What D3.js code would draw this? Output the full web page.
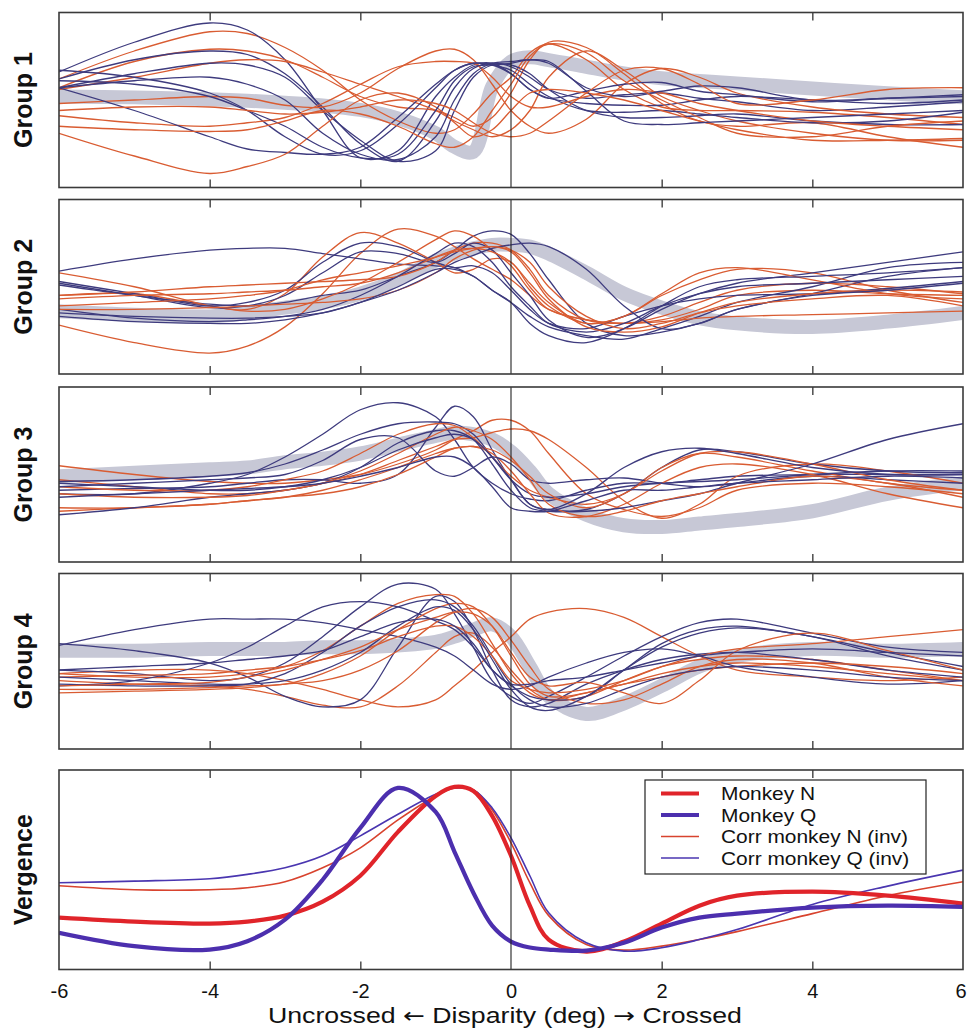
<!DOCTYPE html>
<html><head><meta charset="utf-8">
<script src="https://cdn.jsdelivr.net/npm/d3@7"></script>
<style>body{margin:0;background:#fff}</style>
</head><body>
<svg id="c" width="967" height="1030"></svg>
<script>
// Disparity sample grid (deg)
const X = [-6,-5,-4,-3.5,-3,-2.5,-2,-1.5,-1,-0.75,-0.5,-0.25,0,0.25,0.5,1,1.5,2,2.5,3,4,5,6];
const xTicks = [-6,-4,-2,0,2,4,6];
const xTickLabels = ["-6","-4","-2","0","2","4","6"];
const innerTicks = [-4,-2,2,4];
const panelLabels = ["Group 1","Group 2","Group 3","Group 4","Vergence"];
const legendLabels = ["Monkey N","Monkey Q","Corr monkey N (inv)","Corr monkey Q (inv)"];
const xTitleParts = ["Uncrossed ", "\u2190", " Disparity (deg) ", "\u2192", " Crossed"];

// Group 1 (normalised response, 0-100)
const g1Mean = [52,51.5,50.4,49.6,48.4,46.9,44.3,39.5,31,23.3,20.4,57.6,71.9,74.4,72.8,69,65.2,62.4,60.8,59.5,56.6,53.8,51.5];
const g1Q = [
 [66,83,94,90,73,44,17,21,52,63,70,71,65,56,51,48,47,47,50,52,50,48,50],
 [62,73,78,76,65,46,25,15,38,57,68,71,69,63,56,51,53,54,51,49,44,46,49],
 [57,65,71,70,63,44,27,15,21,44,63,70,70,65,56,44,40,40,41,42,38,36,36],
 [67,63,54,44,29,19,21,36,57,67,71,70,67,59,52,44,43,44,42,40,37,38,43],
 [57,44,29,22,20,19,23,40,59,67,71,70,65,56,51,55,59,60,55,53,49,51,53],
 [61,59,52,44,35,23,17,19,44,61,69,70,71,73,71,57,52,55,58,57,50,51,52],
 [57,61,63,59,50,31,19,16,29,50,65,71,72,73,72,55,38,36,37,38,40,42,44]
];
const g1N = [
 [62,78,89,88,80,67,50,38,31,33,42,54,63,77,82,73,56,46,44,44,43,40,36],
 [57,72,79,78,73,63,52,46,44,40,35,40,54,73,83,80,65,48,38,35,37,29,23],
 [56,63,71,73,72,66,59,52,44,38,33,29,33,44,63,78,67,52,44,38,31,27,27],
 [48,50,52,51,47,46,54,68,78,79,73,59,44,35,31,39,59,68,63,54,46,42,40],
 [41,37,35,37,40,48,59,69,72,72,71,63,52,46,46,52,56,54,48,44,38,35,33],
 [31,18,8,12,19,35,50,54,46,37,29,33,44,54,56,54,50,44,38,33,27,27,28],
 [35,33,32,33,38,44,42,35,25,23,29,44,59,75,82,77,61,50,40,31,29,35,38],
 [44,46,46,44,42,43,46,50,48,44,37,31,29,31,38,54,67,68,59,48,50,56,57]
];
// Group 2
const g2Mean = [36,34,33,35,38,41,46,54,65,69,72,74,74,73,69,58,46,38,32,29,27,30,35];
const g2Q = [
 [59,66,71,72,72,69,66,63,62,61,56,48,41,33,27,22,20,26,33,41,50,61,64],
 [51,45,40,39,41,45,48,56,64,71,79,82,80,69,54,29,22,24,29,37,46,56,61],
 [53,46,39,41,48,64,75,73,64,61,62,58,48,37,29,26,33,39,43,45,46,49,53],
 [52,45,38,39,45,58,70,69,64,69,75,71,58,45,31,21,26,37,46,52,58,64,70],
 [37,32,30,31,33,37,45,56,69,75,73,64,50,39,29,24,29,39,46,50,52,54,56],
 [35,33,32,32,33,35,41,48,58,64,68,72,74,75,73,60,39,26,29,37,45,48,52],
 [33,30,29,29,31,35,41,50,60,60,56,48,41,29,22,18,26,39,50,54,56,58,61]
];
const g2N = [
 [28,18,12,16,27,46,69,83,79,73,66,60,54,45,37,31,29,31,37,45,48,46,45],
 [45,46,39,37,46,67,81,75,64,58,60,66,64,50,39,29,33,45,54,60,58,48,41],
 [58,50,39,36,37,43,52,64,77,82,79,71,62,48,37,31,29,33,41,48,52,50,46],
 [45,47,50,51,52,53,54,56,64,71,75,75,71,60,45,31,29,30,32,33,34,35,36],
 [43,45,46,47,48,50,52,58,67,71,72,70,64,52,41,29,33,46,58,61,54,46,43],
 [37,37,38,39,40,41,43,48,58,66,71,73,70,58,43,27,24,27,35,41,46,48,47],
 [39,41,43,45,48,54,58,62,67,70,72,73,71,64,50,33,26,29,35,39,43,45,39]
];
// Group 3
const g3Mean = [49,51,53,54,57,59,62,67,72,74,73,70,63,52,39,27,21,20,22,24,29,39,45];
const g3Q = [
 [39,39,45,50,60,73,87,91,83,70,54,45,39,36,35,41,45,45,47,49,50,50,50],
 [41,42,43,45,47,47,45,50,77,89,83,64,47,33,30,30,39,54,64,63,56,52,51],
 [46,47,49,51,56,64,73,79,80,79,73,60,47,39,37,39,43,45,46,47,50,52,52],
 [43,45,47,48,50,58,70,71,52,49,54,60,56,47,45,47,48,45,43,45,49,47,45],
 [27,31,37,39,41,45,54,68,75,75,70,56,41,31,29,29,31,35,39,45,56,70,79],
 [45,43,41,41,43,47,54,64,71,73,70,60,47,33,30,39,54,63,65,62,54,50,50],
 [37,39,41,42,43,45,49,54,60,60,54,43,31,29,29,35,41,41,43,45,47,49,48]
];
const g3N = [
 [55,50,46,45,45,47,50,56,64,70,75,81,81,75,62,39,30,26,31,41,45,43,39],
 [47,43,39,39,41,45,50,58,66,70,71,74,76,75,70,54,35,25,33,49,56,52,45],
 [43,41,41,43,47,52,62,73,79,78,71,60,49,41,37,33,39,54,62,60,52,45,41],
 [31,31,33,35,37,41,47,54,62,65,66,62,52,39,28,26,33,45,54,56,50,39,31],
 [29,31,33,35,37,39,43,50,60,65,66,64,58,49,39,31,39,52,62,63,56,47,41],
 [39,37,37,38,41,45,52,62,73,77,75,70,60,47,33,26,29,35,39,43,49,45,37]
];
// Group 4
const g4Mean = [56,56,57,57,57,58,58,59,61,64,68,71,64,47,30,20,26,36,47,53,57,56,57];
const g4Q = [
 [45,43,39,41,49,64,81,94,91,77,58,39,30,26,30,41,53,64,72,74,66,58,55],
 [60,56,49,41,30,24,28,58,87,84,68,45,28,24,26,37,45,51,54,55,51,45,41],
 [36,39,49,58,70,81,84,81,73,68,58,45,36,30,28,30,45,60,68,70,64,55,47],
 [59,68,74,74,74,72,68,64,58,53,45,37,34,36,41,49,55,57,53,47,41,37,39],
 [37,36,36,37,43,55,70,81,85,81,70,53,37,28,24,26,34,41,45,47,45,41,39],
 [41,39,37,37,39,45,55,70,81,79,68,51,34,24,22,30,45,58,66,69,64,53,45],
 [45,47,49,51,53,56,64,72,74,70,60,45,37,37,39,41,45,49,53,55,57,55,53]
];
const g4N = [
 [43,45,45,43,39,34,28,24,28,36,45,55,64,74,78,80,75,64,53,45,41,39,41],
 [39,37,36,34,30,25,24,36,55,64,66,58,45,34,28,30,39,47,51,53,51,45,39],
 [43,41,41,43,47,56,70,83,88,87,77,60,43,32,28,32,37,41,45,47,49,47,43],
 [34,34,35,36,37,43,53,68,80,83,81,70,53,37,30,32,37,43,47,49,47,43,39],
 [32,33,34,35,37,39,45,56,72,78,80,75,62,47,34,26,28,37,47,51,49,41,36],
 [41,42,43,45,47,51,56,64,70,70,64,53,39,34,32,34,39,47,53,57,60,64,68],
 [36,37,38,41,45,51,58,68,75,78,77,70,55,41,36,38,32,26,39,56,66,56,45]
];
// Vergence
const vergMonkeyN = [26,24,23,24,27,34,47,69,87,91.5,89.5,77,57,32,15,9,14,23,32,37,39,37,33];
const vergMonkeyQ = [18.4,11.7,10,14.2,25,45,71,91,79,59,38.5,22,14,11,10,9.5,13.4,21,26,28,31,32,31.4];
const corrMonkeyN = [42,40,40,41,44,51,61,75,87,91,90,80,63.5,43.5,27,12.5,9.7,11.7,15,19,28,37,44];
const corrMonkeyQ = [43.5,44.3,45.5,47.7,51,57,67,77.8,87.8,91,90,81,66,47,28.4,13.4,9.2,10.9,15,20,32.6,41.8,49.8];

const FONT = "'Liberation Sans', Arial, Helvetica, sans-serif";
const ORANGE = "#d95c32", BLUE = "#3e3b7e", GRAY = "#c7c8d6";
const svg = d3.select("#c");
const x = d3.scaleLinear().domain([-6,6]).range([59,963]);
const boxes = [
  {top:12.5,bottom:187.5},{top:199.5,bottom:374},{top:387,bottom:562},
  {top:573.5,bottom:749},{top:770,bottom:969.5}
];
const groups = [
  {mean:g1Mean,N:g1N,Q:g1Q},{mean:g2Mean,N:g2N,Q:g2Q},
  {mean:g3Mean,N:g3N,Q:g3Q},{mean:g4Mean,N:g4N,Q:g4Q}
];

boxes.forEach((b,i)=>{
  const y = d3.scaleLinear().domain([0,100]).range([b.bottom,b.top]);
  const line = d3.line().x((d,j)=>x(X[j])).y(d=>y(d)).curve(d3.curveCatmullRom.alpha(0.5));
  const g = svg.append("g");
  const cid = "clip"+i;
  svg.append("clipPath").attr("id",cid).append("rect")
    .attr("x",x(-6)).attr("y",b.top).attr("width",x(6)-x(-6)).attr("height",b.bottom-b.top);
  const plot = g.append("g").attr("clip-path",`url(#${cid})`);
  if (i<4){
    const gr = groups[i];
    plot.append("path").attr("d",line(gr.mean)).attr("fill","none")
      .attr("stroke",GRAY).attr("stroke-width",14).attr("stroke-linecap","round").attr("stroke-linejoin","round");
    const n = Math.max(gr.N.length,gr.Q.length);
    for(let k=0;k<n;k++){
      if(gr.N[k]) plot.append("path").attr("d",line(gr.N[k])).attr("fill","none").attr("stroke",ORANGE).attr("stroke-width",1.3);
      if(gr.Q[k]) plot.append("path").attr("d",line(gr.Q[k])).attr("fill","none").attr("stroke",BLUE).attr("stroke-width",1.3);
    }
  } else {
    plot.append("path").attr("d",line(corrMonkeyN)).attr("fill","none").attr("stroke","#d8432e").attr("stroke-width",1.6);
    plot.append("path").attr("d",line(corrMonkeyQ)).attr("fill","none").attr("stroke","#4a36b0").attr("stroke-width",1.6);
    plot.append("path").attr("d",line(vergMonkeyN)).attr("fill","none").attr("stroke","#e0242a").attr("stroke-width",4.2);
    plot.append("path").attr("d",line(vergMonkeyQ)).attr("fill","none").attr("stroke","#4c2fae").attr("stroke-width",4.2);
  }
  // zero line
  g.append("line").attr("x1",x(0)).attr("x2",x(0)).attr("y1",b.top).attr("y2",b.bottom)
    .attr("stroke","#222").attr("stroke-width",1.1);
  // inner ticks
  const top = g.append("g").attr("transform",`translate(0,${b.top})`)
    .call(d3.axisTop(x).tickValues(innerTicks).tickSizeInner(-8).tickSizeOuter(0).tickFormat(""));
  const bot = g.append("g").attr("transform",`translate(0,${b.bottom})`)
    .call(d3.axisBottom(x).tickValues(innerTicks).tickSizeInner(-8).tickSizeOuter(0).tickFormat(""));
  [top,bot].forEach(a=>{a.select(".domain").remove(); a.selectAll("line").attr("stroke","#333").attr("stroke-width",1.3);});
  // frame
  g.append("rect").attr("x",x(-6)).attr("y",b.top).attr("width",x(6)-x(-6)).attr("height",b.bottom-b.top)
    .attr("fill","none").attr("stroke","#3a3a3a").attr("stroke-width",1.6);
  // label
  svg.append("text").attr("transform",`translate(32,${(b.top+b.bottom)/2}) rotate(-90)`)
    .attr("text-anchor","middle").attr("font-family",FONT).attr("font-weight","bold")
    .attr("font-size",25).attr("fill","#111").text(panelLabels[i]);
});

// bottom tick labels
const last = boxes[4];
const ax = svg.append("g").attr("transform",`translate(0,${last.bottom})`)
  .call(d3.axisBottom(x).tickValues(xTicks).tickSize(0).tickPadding(14)
    .tickFormat((d,k)=>xTickLabels[k]));
ax.select(".domain").remove();
ax.selectAll("text").attr("font-family",FONT).attr("font-size",20).attr("fill","#111");
ax.selectAll("text").filter((d,k)=>k===xTicks.length-1).attr("text-anchor","end").attr("dx",3);

// x title
const tt = svg.append("text").attr("x",505).attr("y",1023).attr("text-anchor","middle")
  .attr("font-family",FONT).attr("font-size",21.5).attr("fill","#111")
  .attr("textLength",474).attr("lengthAdjust","spacingAndGlyphs");
xTitleParts.forEach((p,k)=>{
  const ts = tt.append("tspan").text(p);
  if(k%2===1) ts.attr("font-family","'DejaVu Sans', sans-serif").attr("font-size",21);
});

// legend
const lg = svg.append("g");
const step = 21.5, firstBase = 800;
lg.append("rect").attr("x",645).attr("y",780).attr("width",281).attr("height",94)
  .attr("fill","#fff").attr("stroke","#222").attr("stroke-width",1.2);
const lstyles = [{c:"#e0242a",w:4.2},{c:"#4c2fae",w:4.2},{c:"#d8432e",w:1.6},{c:"#4a36b0",w:1.6}];
legendLabels.forEach((t,k)=>{
  const base = firstBase + k*step;
  lg.append("line").attr("x1",661).attr("x2",699).attr("y1",base-6.5).attr("y2",base-6.5)
    .attr("stroke",lstyles[k].c).attr("stroke-width",lstyles[k].w);
  const tx = lg.append("text").attr("x",721).attr("y",base).attr("font-family",FONT)
    .attr("font-size",18.5).attr("fill","#111").text(t);
  const w = tx.node().getComputedTextLength();
  tx.attr("textLength",w*1.13).attr("lengthAdjust","spacingAndGlyphs");
});
</script>
</body></html>
